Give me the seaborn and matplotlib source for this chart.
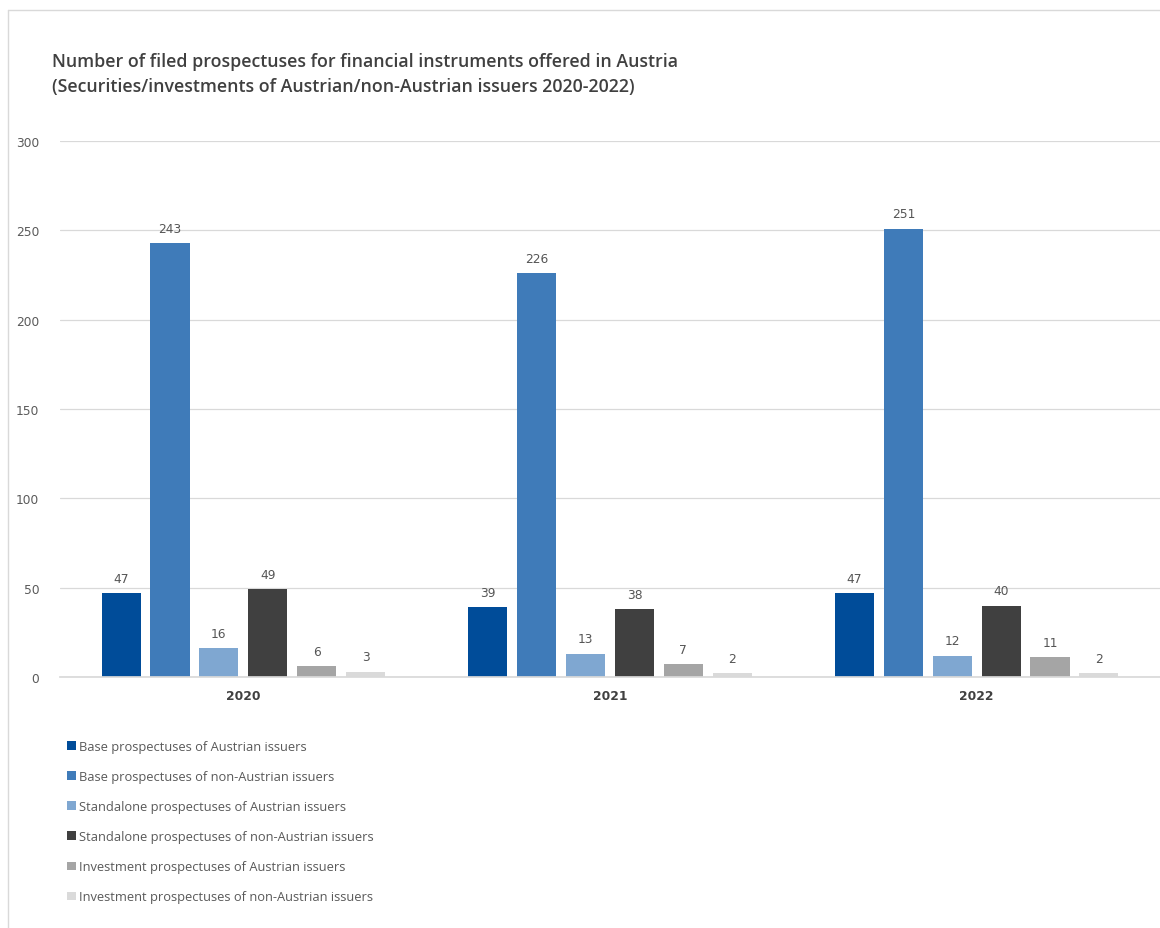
import matplotlib
matplotlib.use("Agg")
import matplotlib.pyplot as plt
from matplotlib.lines import Line2D
from matplotlib.patches import Patch
import seaborn as sns
import pandas as pd

years = ["2020", "2021", "2022"]
series = [
    "Base prospectuses of Austrian issuers",
    "Base prospectuses of non-Austrian issuers",
    "Standalone prospectuses of Austrian issuers",
    "Standalone prospectuses of non-Austrian issuers",
    "Investment prospectuses of Austrian issuers",
    "Investment prospectuses of non-Austrian issuers",
]
base_at = [47, 39, 47]
base_non_at = [243, 226, 251]
standalone_at = [16, 13, 12]
standalone_non_at = [49, 38, 40]
investment_at = [6, 7, 11]
investment_non_at = [3, 2, 2]
colors = ["#004C99", "#3F7BB9", "#7FA7D1", "#404040", "#A5A5A5", "#DADADA"]

values = [base_at, base_non_at, standalone_at, standalone_non_at, investment_at, investment_non_at]
rows = []
for name, vals in zip(series, values):
    for y, v in zip(years, vals):
        rows.append({"Year": y, "Type": name, "Count": v})
df = pd.DataFrame(rows)

sns.set_theme(style="white")
plt.rcParams["font.family"] = ["Open Sans", "DejaVu Sans"]

fig = plt.figure(figsize=(11.6, 9.29), dpi=100)
ax = fig.add_axes([60 / 1160, 1 - 678 / 929, 1 - 60 / 1160, (678 - 142) / 929])

sns.barplot(data=df, x="Year", y="Count", hue="Type", hue_order=series, order=years,
            palette=colors, width=0.8, gap=0.2, saturation=1, ax=ax, legend=False,
            edgecolor="none")

for cont in ax.containers:
    ax.bar_label(cont, padding=6, fontsize=8.8, color="#555555", family="DejaVu Sans")

ax.set_ylim(0, 300)
ax.set_xlim(-0.5, 2.5)
ax.set_yticks(range(0, 301, 50))
ax.yaxis.grid(True, color="#D9D9D9", linewidth=0.9)
ax.set_axisbelow(True)
for s in ax.spines.values():
    s.set_visible(False)
ax.spines["bottom"].set_visible(True)
ax.spines["bottom"].set_color("#D9D9D9")
ax.set_xlabel("")
ax.set_ylabel("")
ax.tick_params(axis="y", length=0, labelsize=8.8, labelcolor="#5A5A5A", pad=15)
ax.tick_params(axis="x", length=0, labelsize=8.8, labelcolor="#404040", pad=9)
for t in ax.get_yticklabels():
    t.set_family("DejaVu Sans")
for t in ax.get_xticklabels():
    t.set_family("DejaVu Sans")
    t.set_fontweight("bold")

title_lines = [
    "Number of filed prospectuses for financial instruments offered in Austria",
    "(Securities/investments of Austrian/non-Austrian issuers 2020-2022)",
]
for line, ypix in zip(title_lines, [62, 87]):
    fig.text(52 / 1160, 1 - ypix / 929, line, fontsize=12.75, fontweight="semibold",
             color="#404040", va="center", ha="left")

handles = [Patch(facecolor=c, edgecolor="none") for c in colors]
fig.legend(handles, series, loc="upper left", bbox_to_anchor=(62 / 1160, 1 - 736 / 929),
           frameon=False, fontsize=9.3, labelcolor="#595959", handlelength=0.65,
           handleheight=0.65, handletextpad=0.25, labelspacing=1.32, borderaxespad=0)

# light frame on the top and left edges
fig.add_artist(Line2D([8 / 1160, 1], [1 - 11 / 929, 1 - 11 / 929], color="#D9D9D9",
                      linewidth=1, transform=fig.transFigure))
fig.add_artist(Line2D([8 / 1160, 8 / 1160], [0, 1 - 11 / 929], color="#D9D9D9",
                      linewidth=1, transform=fig.transFigure))

fig.savefig("out.png", dpi=100, facecolor="white")
